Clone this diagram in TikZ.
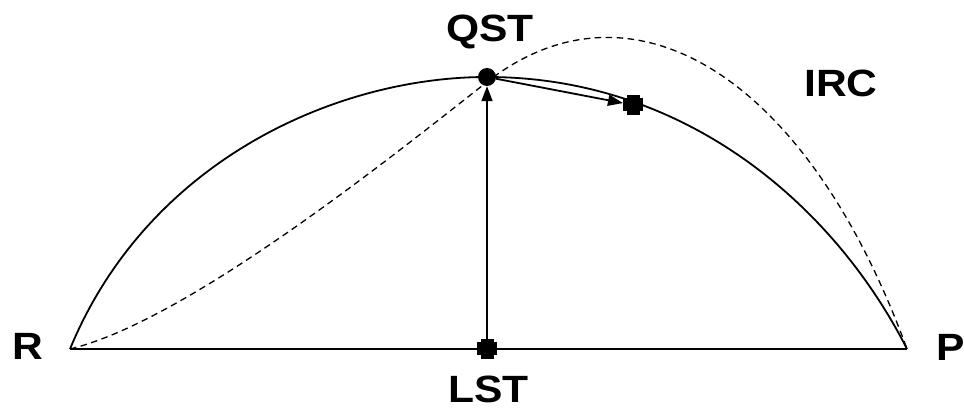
\documentclass[tikz,border=0pt]{standalone}
\usepackage{fontspec}
\setmainfont{Liberation Sans}
\usetikzlibrary{arrows.meta}
\newcommand\lbltext[1]{\raisebox{0pt}[\height][0pt]{\scalebox{1.12}[1]{\bfseries\fontsize{38}{40}\selectfont #1}}}
\tikzset{
  lbl/.style={anchor=base, inner sep=0pt, font=\bfseries},
  tsmark/.style={minimum size=20pt, inner sep=0pt, outer sep=0pt,
    path picture={
      \fill ([xshift=-10pt,yshift=-6.5pt]path picture bounding box.center) rectangle ([xshift=10pt,yshift=6.5pt]path picture bounding box.center);
      \fill ([xshift=-6.5pt,yshift=-10pt]path picture bounding box.center) rectangle ([xshift=6.5pt,yshift=10pt]path picture bounding box.center);
    }},
  mindot/.style={circle, fill, minimum size=18pt, inner sep=0pt},
  solidline/.style={line width=1.8pt},
  irc/.style={line width=1.3pt, dash pattern=on 6.5pt off 4.5pt},
  arr/.style={solidline, -{Triangle[length=15pt,width=11pt]}},
}
\begin{document}
\begin{tikzpicture}[x=1pt,y=-1pt]
\useasboundingbox (0,0) rectangle (964,411);
\coordinate (R) at (70,349);
\coordinate (P) at (907,349);
\coordinate (ts) at (487,77);
\coordinate (ircmid) at (487,82);
% baseline
\draw[solidline] (R) -- (P);
% solid arc
\draw[solidline] (R) .. controls (148,160) and (337,77) .. (ts)
                     .. controls (687,77) and (835,207) .. (P);
% IRC dashed
\draw[irc] (R) .. controls (190,320) and (400,150) .. (ircmid)
               .. controls (629,-29) and (805,70) .. (P);
% markers
\node[mindot] (qst) at (ts) {};
\node[tsmark] (lst) at (487,349) {};
\node[tsmark] (ts2) at (633,105) {};
% arrows
\draw[arr] (lst) -- (qst);
\draw[arr] (qst) -- (ts2);
% labels
\node[lbl] (lqst) at (490,42) {\lbltext{QST}};
\node[lbl] (llst) at (488.5,403) {\lbltext{LST}};
\node[lbl] (lr) at (28,360) {\lbltext{R}};
\node[lbl] (lp) at (951,361) {\lbltext{P}};
\node[lbl] (lirc) at (841,97) {\lbltext{IRC}};
\end{tikzpicture}
\end{document}
